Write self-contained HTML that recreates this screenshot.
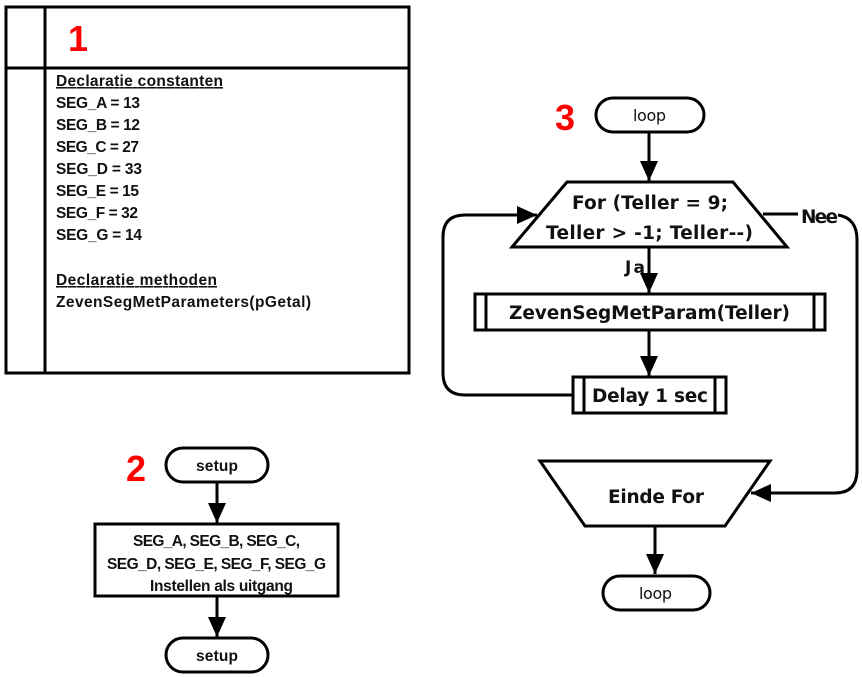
<!DOCTYPE html>
<html><head><meta charset="utf-8"><style>
html,body{margin:0;padding:0;background:#fff;}
svg{display:block;}
.c{font-family:"Liberation Sans",sans-serif;font-size:15.5px;fill:#111;font-weight:bold;}
.v{font-family:"DejaVu Sans",sans-serif;font-weight:bold;font-size:18.5px;fill:#111;}
.r{font-family:"Liberation Sans",sans-serif;font-weight:bold;font-size:36px;fill:#f00;}
</style></head><body>
<svg width="862" height="677" viewBox="0 0 862 677" xmlns="http://www.w3.org/2000/svg">
<defs>
<marker id="b" markerWidth="20" markerHeight="18" refX="20" refY="9" orient="auto" markerUnits="userSpaceOnUse"><path d="M0,0 L20,9 L0,18z" fill="#000"/></marker></defs>
<g fill="none" stroke="#000" stroke-width="3">
<rect x="6" y="7" width="403" height="366"/>
<line x1="45" y1="7" x2="45" y2="373"/>
<line x1="6" y1="68" x2="409" y2="68"/>
<rect x="166" y="448" width="102" height="34" rx="17"/>
<line x1="217" y1="482" x2="217" y2="523" marker-end="url(#b)"/>
<rect x="95" y="524" width="243" height="72"/>
<line x1="217" y1="596" x2="217" y2="637" marker-end="url(#b)"/>
<rect x="166" y="638" width="102" height="34" rx="17"/>
<rect x="596" y="98" width="108" height="34" rx="17"/>
<line x1="649" y1="132" x2="649" y2="181" marker-end="url(#b)"/>
<polygon points="567,182 733,182 787,247 512,247"/>
<line x1="649" y1="247" x2="649" y2="293" marker-end="url(#b)"/>
<rect x="475" y="294" width="350" height="36"/>
<line x1="486" y1="294" x2="486" y2="330"/><line x1="814" y1="294" x2="814" y2="330"/>
<line x1="649" y1="330" x2="649" y2="376" marker-end="url(#b)"/>
<rect x="573" y="377" width="153" height="36"/>
<line x1="584" y1="377" x2="584" y2="413"/><line x1="715" y1="377" x2="715" y2="413"/>
<path d="M573,395 H465 Q443,395 443,373 V237 Q443,215 465,215 H537" marker-end="url(#b)"/>
<path d="M763,214 H798"/>
<path d="M838,215 Q857,218 857,240 V470 Q857,493 835,493 H751" marker-end="url(#b)"/>
<polygon points="540,461 770,461 725,526 585,526"/>
<line x1="655" y1="526" x2="655" y2="574" marker-end="url(#b)"/>
<rect x="603" y="576" width="107" height="34" rx="17"/>
</g>
<text class="r" x="68" y="51">1</text>
<text class="r" x="126" y="481">2</text>
<text class="r" x="555" y="130">3</text>
<g class="c" lengthAdjust="spacingAndGlyphs">
<text x="56" y="86" textLength="167" text-decoration="underline">Declaratie constanten</text>
<text x="56" y="108" textLength="84">SEG_A = 13</text>
<text x="56" y="130" textLength="84">SEG_B = 12</text>
<text x="56" y="152" textLength="83">SEG_C = 27</text>
<text x="56" y="174" textLength="86">SEG_D = 33</text>
<text x="56" y="196" textLength="83">SEG_E = 15</text>
<text x="56" y="218" textLength="82">SEG_F = 32</text>
<text x="56" y="240" textLength="86">SEG_G = 14</text>
<text x="56" y="285" textLength="161" text-decoration="underline">Declaratie methoden</text>
<text x="56" y="307" textLength="255">ZevenSegMetParameters(pGetal)</text>
<text x="196" y="471" textLength="42">setup</text>
<text x="133" y="546" textLength="167">SEG_A, SEG_B, SEG_C,</text>
<text x="107" y="569" textLength="219">SEG_D, SEG_E, SEG_F, SEG_G</text>
<text x="150" y="591" textLength="143">Instellen als uitgang</text>
<text x="196" y="661" textLength="42">setup</text>
</g>
<g class="v">
<text x="633" y="121" font-size="16" font-weight="normal" textLength="33">loop</text>
<text x="572" y="209" textLength="156">For (Teller = 9;</text>
<text x="546" y="239" textLength="207">Teller &gt; -1; Teller--)</text>
<text x="625" y="273" font-size="17" textLength="20">Ja</text>
<text x="509" y="319" textLength="281">ZevenSegMetParam(Teller)</text>
<text x="592" y="402" textLength="116">Delay 1 sec</text>
<text x="801" y="223" textLength="37">Nee</text>
<text x="608" y="503" textLength="96">Einde For</text>
<text x="639" y="599" font-size="16" font-weight="normal" textLength="33">loop</text>
</g>
</svg>
</body></html>
